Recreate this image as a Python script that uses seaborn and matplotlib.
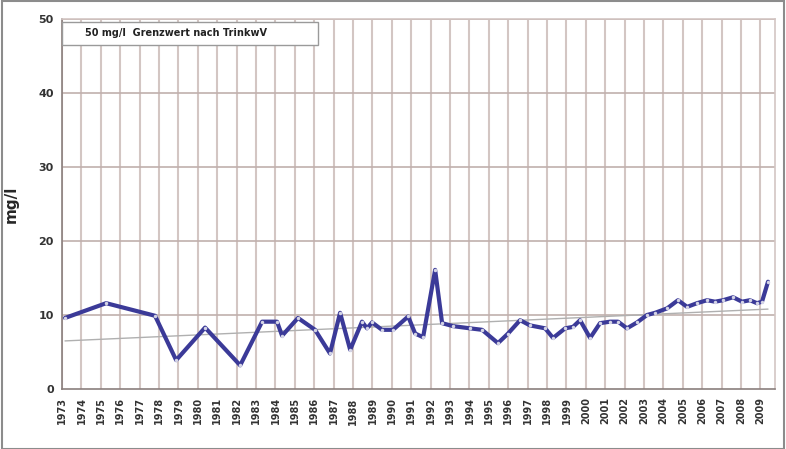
import matplotlib
matplotlib.use("Agg")
import matplotlib.pyplot as plt
import seaborn as sns
import pandas as pd
from matplotlib.patches import Rectangle

# measured values (year as decimal, mg/l)
years = [1973.15, 1975.27, 1977.79, 1978.88, 1980.37, 1982.18, 1983.31, 1984.08,
         1984.34, 1985.16, 1986.04, 1986.81, 1987.33, 1987.85, 1988.46, 1988.72,
         1988.98, 1989.49, 1990.06, 1990.84, 1991.20, 1991.61, 1992.23, 1992.59,
         1993.15, 1994.03, 1994.65, 1995.47, 1995.99, 1996.61, 1997.12, 1997.90,
         1998.31, 1998.93, 1999.34, 1999.70, 2000.22, 2000.73, 2001.25, 2001.66,
         2002.12, 2002.64, 2003.15, 2003.57, 2004.19, 2004.75, 2005.22, 2005.73,
         2006.25, 2006.66, 2007.07, 2007.59, 2008.05, 2008.46, 2008.82, 2009.08,
         2009.39]
values = [9.6, 11.6, 9.9, 3.9, 8.3, 3.2, 9.1, 9.1,
          7.2, 9.6, 8.0, 4.8, 10.3, 5.3, 9.1, 8.2,
          9.0, 8.0, 8.0, 9.8, 7.5, 7.0, 16.1, 8.9,
          8.5, 8.2, 8.0, 6.2, 7.5, 9.3, 8.6, 8.2,
          6.9, 8.2, 8.4, 9.3, 6.9, 8.9, 9.1, 9.1,
          8.2, 9.0, 10.0, 10.3, 10.9, 12.0, 11.1, 11.6,
          12.0, 11.8, 12.0, 12.4, 11.8, 12.0, 11.6, 11.8,
          14.5]

# faint trend line
trend_years = [1973.15, 2009.39]
trend_values = [6.5, 10.8]

limit_value = 50
limit_label = "50 mg/l  Grenzwert nach TrinkwV"
tick_years = list(range(1973, 2010))

df = pd.DataFrame({"Jahr": years, "mg/l": values})
trend = pd.DataFrame({"Jahr": trend_years, "mg/l": trend_values})

sns.set_style("white")
plt.rcParams["font.family"] = ["DejaVu Sans"]

fig = plt.figure(figsize=(7.86, 4.49), dpi=100)
ax = fig.add_axes([0.079, 0.1336, 0.907, 0.824])

grid_c = "#d3c6c3"
for yr in tick_years:
    ax.axvline(yr, color=grid_c, lw=1.5, zorder=0)
for yv in [10, 20, 30, 40]:
    ax.axhline(yv, color="#c0b0ad", lw=1.2, zorder=0)
ax.axhline(limit_value, color="#b7a5a2", lw=1.4, zorder=1)

sns.lineplot(data=trend, x="Jahr", y="mg/l", ax=ax, color="#b0b0b0", lw=1.0, zorder=2)
sns.lineplot(data=df, x="Jahr", y="mg/l", ax=ax, sort=False, color="#3b3a98",
             lw=3.0, marker="o", markersize=2.5, markerfacecolor="#d4d4e6",
             markeredgecolor="none", zorder=3)

ax.set_xlim(1973, 2009.75)
ax.set_ylim(0, 50)
ax.set_xticks(tick_years)
ax.set_xticklabels([str(y) for y in tick_years], rotation=90, fontsize=7,
                   fontweight="bold", color="#333333")
ax.set_yticks([0, 10, 20, 30, 40, 50])
ax.set_yticklabels(["0", "10", "20", "30", "40", "50"], fontsize=8,
                   fontweight="bold", color="#333333")
ax.tick_params(axis="both", length=3, width=0.8, color="#888888", pad=3)
ax.set_xlabel("")
ax.set_ylabel("mg/l", fontsize=11, fontweight="bold", labelpad=14)

for side in ["top", "right"]:
    ax.spines[side].set_color(grid_c)
    ax.spines[side].set_linewidth(1.2)
for side in ["left", "bottom"]:
    ax.spines[side].set_color("#8a7f7d")
    ax.spines[side].set_linewidth(1.2)

# legend box
ax.add_patch(Rectangle((0.0, 0.930), 0.359, 0.062, transform=ax.transAxes,
                       facecolor="white", edgecolor="#9a9a9a", lw=1.0, zorder=4))
ax.text(0.032, 0.961, limit_label, transform=ax.transAxes, fontsize=7,
        fontweight="bold", va="center", ha="left", color="#222222", zorder=5)

# outer frame
fig.patches.append(Rectangle((0.002, 0.0), 0.996, 0.998, transform=fig.transFigure,
                             fill=False, edgecolor="#8c8c8c", lw=1.5))

fig.savefig("out.png", dpi=100)
